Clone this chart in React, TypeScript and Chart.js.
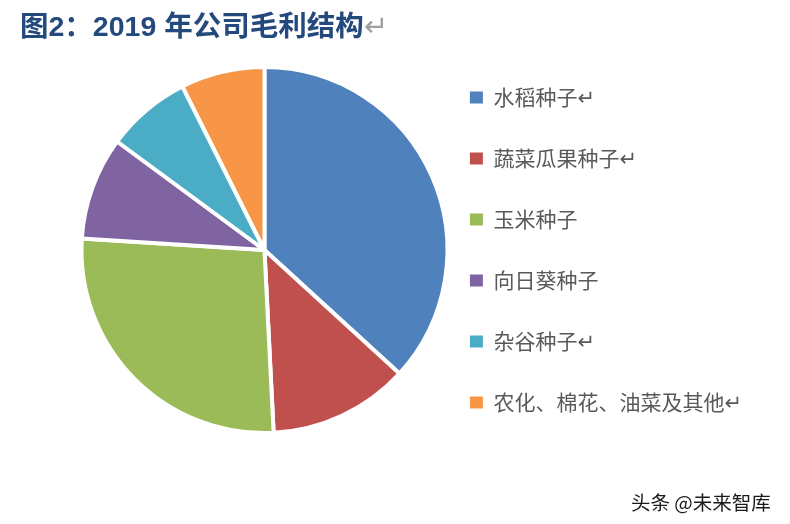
import { useEffect, useRef } from 'react'
import { Chart, registerables } from 'chart.js'

Chart.register(...registerables)

// gross profit share by business line, 2019 (percent)
const categories = ['水稻种子↵', '蔬菜瓜果种子↵', '玉米种子', '向日葵种子', '杂谷种子↵', '农化、棉花、油菜及其他↵']
const grossShare = [36.8, 12.4, 26.8, 9.1, 7.5, 7.4]
const sliceColors = ['#4F81BD', '#C0504D', '#9BBB59', '#8064A2', '#4BACC6', '#F79646']

export default function App() {
  const canvasRef = useRef<HTMLCanvasElement>(null)

  useEffect(() => {
    if (!canvasRef.current) return
    const baseLabels = (Chart as any).overrides.pie.plugins.legend.labels.generateLabels

    const chart = new Chart(canvasRef.current, {
      type: 'pie',
      data: {
        labels: categories,
        datasets: [
          {
            data: grossShare,
            backgroundColor: sliceColors,
            borderColor: '#ffffff',
            borderWidth: 4,
            radius: 183,
            clip: false
          } as any
        ]
      },
      options: {
        responsive: false,
        animation: false,
        layout: { padding: { left: 99, right: 38, top: 40, bottom: 64 } },
        plugins: {
          legend: {
            position: 'right',
            align: 'center',
            labels: {
              boxWidth: 13,
              boxHeight: 12,
              padding: 40,
              color: '#595959',
              font: { size: 21, family: '"Noto Sans CJK SC", "DejaVu Sans", sans-serif' },
              generateLabels: (c: Chart) =>
                baseLabels(c).map((l: any) => ({ ...l, lineWidth: 0, strokeStyle: 'rgba(0,0,0,0)' }))
            }
          },
          tooltip: { enabled: false }
        }
      }
    })

    return () => chart.destroy()
  }, [])

  return (
    <div style={{ position: 'relative', width: 790, height: 524, background: '#fff', margin: -8, overflow: 'hidden' }}>
      <canvas ref={canvasRef} width={790} height={524} style={{ position: 'absolute', left: 0, top: 0 }} />
      {/* title */}
      <div
        style={{
          position: 'absolute',
          left: 20,
          top: 12,
          fontFamily: '"Liberation Sans", "Noto Sans CJK SC", sans-serif',
          fontWeight: 'bold',
          fontSize: 28.5,
          lineHeight: '28px',
          color: '#24497C',
          whiteSpace: 'nowrap'
        }}
      >
        图2：2019 年公司毛利结构<span style={{ color: '#a0a0a0', fontWeight: 'normal' }}>↵</span>
      </div>
      {/* watermark */}
      <div
        style={{
          position: 'absolute',
          left: 631,
          top: 491,
          fontFamily: '"Noto Sans CJK SC", sans-serif',
          fontSize: 19.5,
          lineHeight: '22px',
          color: '#1a1a1a',
          textShadow: '0 0 2px #fff, 1px 1px 1px #fff',
          whiteSpace: 'nowrap'
        }}
      >
        头条 @未来智库
      </div>
    </div>
  )
}
